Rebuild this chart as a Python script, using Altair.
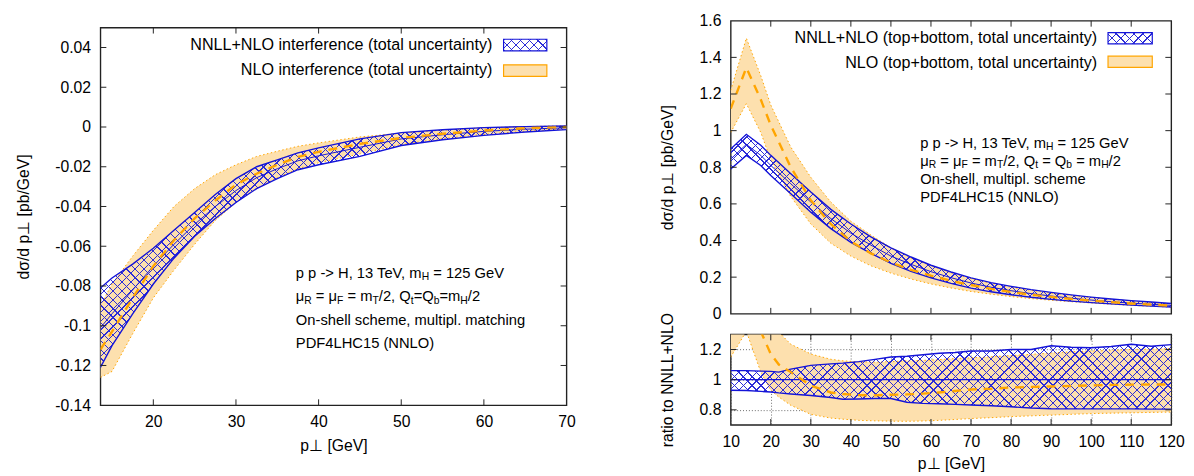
import altair as alt
import pandas as pd

# ---------------- data ----------------
# left panel: top-bottom interference
left_pt = [13.6, 15, 17.5, 20, 22.5, 25, 27.5, 30, 32.5, 35, 37.5, 40, 45, 50, 55, 60, 65, 70]
left_nnll_up = [-0.081, -0.076, -0.069, -0.061, -0.052, -0.043, -0.034, -0.026, -0.020, -0.0165, -0.013, -0.0105, -0.006, -0.0028, -0.0014, -0.0003, 0.0002, 0.0005]
left_nnll_mid = [-0.101, -0.094, -0.082, -0.070, -0.059, -0.049, -0.040, -0.032, -0.0255, -0.021, -0.017, -0.0145, -0.0102, -0.006, -0.0039, -0.0022, -0.0011, -0.0004]
left_nnll_lo = [-0.121, -0.110, -0.094, -0.079, -0.066, -0.055, -0.046, -0.038, -0.031, -0.026, -0.0215, -0.019, -0.0148, -0.0093, -0.0064, -0.0042, -0.0025, -0.0013]
left_nlo_up = [-0.090, -0.079, -0.065, -0.052, -0.040, -0.031, -0.024, -0.019, -0.0148, -0.0122, -0.0097, -0.008, -0.005, -0.0031, -0.0016, -0.0004, 0.0002, 0.0006]
left_nlo_mid = [-0.112, -0.103, -0.086, -0.070, -0.057, -0.046, -0.037, -0.029, -0.0235, -0.019, -0.015, -0.0125, -0.0085, -0.0055, -0.0034, -0.0018, -0.0006, 0.0]
left_nlo_lo = [-0.126, -0.123, -0.104, -0.086, -0.072, -0.059, -0.047, -0.038, -0.031, -0.0255, -0.021, -0.018, -0.0135, -0.0088, -0.0058, -0.0037, -0.0021, -0.0011]

# right panel: top+bottom spectrum
right_pt = [10, 13.9, 17.5, 20, 25, 30, 35, 40, 45, 50, 55, 60, 65, 70, 75, 80, 85, 90, 95, 100, 105, 110, 115, 120]
right_nnll_up = [0.90, 0.98, 0.92, 0.865, 0.765, 0.665, 0.57, 0.49, 0.42, 0.36, 0.31, 0.265, 0.228, 0.196, 0.17, 0.15, 0.132, 0.117, 0.103, 0.091, 0.081, 0.072, 0.064, 0.056]
right_nnll_mid = [0.845, 0.925, 0.865, 0.81, 0.71, 0.61, 0.52, 0.44, 0.375, 0.315, 0.27, 0.23, 0.197, 0.168, 0.145, 0.126, 0.11, 0.097, 0.085, 0.075, 0.066, 0.058, 0.052, 0.046]
right_nnll_lo = [0.79, 0.865, 0.81, 0.755, 0.655, 0.555, 0.465, 0.39, 0.33, 0.275, 0.232, 0.196, 0.166, 0.14, 0.12, 0.104, 0.09, 0.079, 0.069, 0.061, 0.054, 0.047, 0.042, 0.037]
right_nlo_up = [1.22, 1.505, 1.30, 1.14, 0.91, 0.745, 0.61, 0.505, 0.43, 0.36, 0.305, 0.262, 0.224, 0.192, 0.166, 0.145, 0.128, 0.113, 0.1, 0.089, 0.079, 0.07, 0.062, 0.055]
right_nlo_mid = [1.12, 1.344, 1.17, 1.03, 0.80, 0.62, 0.49, 0.395, 0.33, 0.28, 0.24, 0.208, 0.18, 0.157, 0.136, 0.119, 0.104, 0.092, 0.081, 0.072, 0.064, 0.056, 0.05, 0.044]
right_nlo_lo = [0.99, 1.147, 0.99, 0.84, 0.64, 0.49, 0.385, 0.315, 0.262, 0.222, 0.19, 0.163, 0.141, 0.122, 0.107, 0.094, 0.083, 0.074, 0.066, 0.059, 0.052, 0.046, 0.041, 0.036]

# ratio panel (to NNLL+NLO central)
ratio_pt = [10, 13.9, 17.5, 20, 22, 25, 30, 35, 38, 42, 46, 50, 54, 58, 62, 66, 70, 75, 80, 85, 90, 95, 100, 105, 110, 115, 120]
ratio_nnll_up = [1.06, 1.06, 1.057, 1.055, 1.05, 1.07, 1.095, 1.105, 1.11, 1.12, 1.135, 1.15, 1.155, 1.165, 1.175, 1.18, 1.19, 1.19, 1.20, 1.20, 1.225, 1.215, 1.212, 1.22, 1.235, 1.222, 1.232]
ratio_nnll_lo = [0.93, 0.928, 0.922, 0.918, 0.912, 0.905, 0.895, 0.882, 0.87, 0.872, 0.875, 0.875, 0.85, 0.843, 0.84, 0.836, 0.832, 0.827, 0.82, 0.812, 0.807, 0.806, 0.806, 0.806, 0.806, 0.805, 0.805]
ratio_nlo_up = [1.45, 1.6, 1.5, 1.36, 1.315, 1.235, 1.17, 1.135, 1.125, 1.118, 1.116, 1.12, 1.125, 1.128, 1.133, 1.14, 1.145, 1.152, 1.16, 1.168, 1.177, 1.185, 1.19, 1.195, 1.2, 1.203, 1.206]
ratio_nlo_mid = [1.33, 1.45, 1.32, 1.17, 1.10, 1.05, 0.96, 0.915, 0.905, 0.897, 0.896, 0.9, 0.902, 0.907, 0.915, 0.925, 0.935, 0.94, 0.948, 0.952, 0.955, 0.958, 0.962, 0.965, 0.967, 0.968, 0.968]
ratio_nlo_lo = [1.15, 1.32, 1.05, 0.93, 0.885, 0.83, 0.77, 0.745, 0.738, 0.73, 0.727, 0.725, 0.724, 0.726, 0.73, 0.736, 0.742, 0.748, 0.755, 0.76, 0.765, 0.77, 0.775, 0.778, 0.78, 0.783, 0.785]
ratio_ref_pt = [10, 120]
ratio_ref_val = [1.0, 1.0]

# axis ticks / labels
left_xticks = [20, 30, 40, 50, 60, 70]
left_yticks = [-0.14, -0.12, -0.1, -0.08, -0.06, -0.04, -0.02, 0, 0.02, 0.04]
right_xticks = [10, 20, 30, 40, 50, 60, 70, 80, 90, 100, 110, 120]
right_yticks = [0, 0.2, 0.4, 0.6, 0.8, 1, 1.2, 1.4, 1.6]
ratio_yticks = [0.8, 1, 1.2]
left_xdom = [13.6, 70]
left_ydom = [-0.14, 0.05]
right_xdom = [10, 120]
right_ydom = [0, 1.6]
ratio_ydom = [0.7, 1.3]

left_legend = ["NNLL+NLO interference (total uncertainty)", "NLO interference (total uncertainty)"]
right_legend = ["NNLL+NLO (top+bottom, total uncertainty)", "NLO (top+bottom, total uncertainty)"]
left_notes = [
    [("p p -> H, 13 TeV, m", 0), ("H", 1), (" = 125 GeV", 0)],
    [("μ", 0), ("R", 1), (" = μ", 0), ("F", 1), (" = m", 0), ("T", 1), ("/2, Q", 0), ("t", 1),
     ("=Q", 0), ("b", 1), ("=m", 0), ("H", 1), ("/2", 0)],
    [("On-shell scheme, multipl. matching", 0)],
    [("PDF4LHC15 (NNLO)", 0)],
]
right_notes = [
    [("p p -> H, 13 TeV, m", 0), ("H", 1), (" = 125 GeV", 0)],
    [("μ", 0), ("R", 1), (" = μ", 0), ("F", 1), (" = m", 0), ("T", 1), ("/2, Q", 0), ("t", 1),
     (" = Q", 0), ("b", 1), (" = m", 0), ("H", 1), ("/2", 0)],
    [("On-shell, multipl. scheme", 0)],
    [("PDF4LHC15 (NNLO)", 0)],
]

# ---------------- style ----------------
FONT = "Liberation Sans"
BLUE = "#1414d8"
HATCH = "#2c2cd8"
ORANGE = "#ffa500"
ORANGE_FILL = "#fde0ae"
FRAME = "#222222"
CLEAR = "rgba(255,255,255,0)"
LBL = "'' + datum.value"

LW, LH = 474, 384
RW, RH, QH = 448, 298, 92

ARIAL = {' ': 278, '-': 333, '>': 584, ',': 278, '.': 278, '/': 278, '=': 584, '(': 333, ')': 333,
         '+': 584, 'A': 667, 'B': 667, 'C': 722, 'D': 722, 'E': 667, 'F': 611, 'G': 778, 'H': 722,
         'I': 278, 'L': 556, 'M': 833, 'N': 722, 'O': 778, 'P': 667, 'Q': 778, 'R': 722, 'S': 667,
         'T': 611, 'V': 667, 'a': 556, 'b': 556, 'c': 500, 'd': 556, 'e': 556, 'f': 278, 'g': 556,
         'h': 556, 'i': 222, 'l': 222, 'm': 833, 'n': 556, 'o': 556, 'p': 556, 'r': 333, 's': 500,
         't': 278, 'u': 556, 'v': 500, 'x': 500, 'y': 500, 'μ': 576}
KERN = {"Te": -111, "V,": -111}


def tw(s, size):
    w = sum(ARIAL.get(ch, 556) for ch in s)
    w += sum(KERN.get(s[i:i + 2], 0) for i in range(len(s) - 1))
    return w / 1000.0 * size


def hatch(W, H, direction, spacing=9.0, lw=1.3, color=HATCH):
    S = W + H
    M = max(W, H)
    a, b = W / M, H / M
    s = (a + b) / (a * a + b * b)
    period = spacing / S
    w = lw / S
    stops = []
    t = 0.0
    while t < 1.0:
        t1 = round(min(t + w, 1.0), 5)
        t2 = round(min(t + period, 1.0), 5)
        t0 = round(t, 5)
        stops += [{"offset": t0, "color": color}, {"offset": t1, "color": color},
                  {"offset": t1, "color": CLEAR}, {"offset": t2, "color": CLEAR}]
        t += period
    if direction == 0:
        return {"gradient": "linear", "x1": 0, "y1": 0, "x2": round(s * a, 5), "y2": round(s * b, 5),
                "stops": stops}
    return {"gradient": "linear", "x1": 0, "y1": 1, "x2": round(s * a, 5), "y2": round(1 - s * b, 5),
            "stops": stops}


ONE = pd.DataFrame({"k": [0]})


def text_layers(lines, x0, y0, dy, size=15, sub=10.5, sub_dy=4.5):
    out = []
    for i, segs in enumerate(lines):
        x = x0
        y = y0 + i * dy
        for seg, is_sub in segs:
            fs = sub if is_sub else size
            lead = len(seg) - len(seg.lstrip())
            out.append(alt.Chart(ONE).mark_text(align="left", baseline="middle", fontSize=fs,
                                                font=FONT, color="black").encode(
                x=alt.value(x + tw(seg[:lead], fs)), y=alt.value(y + (sub_dy if is_sub else 0)),
                text=alt.value(seg.strip())))
            x += tw(seg, fs)
    return out


def legend_layers(labels, tx, ty, sx, sy, sw=(45, 11.5)):
    out = []
    for lab, y in zip(labels, ty):
        out.append(alt.Chart(ONE).mark_text(align="right", baseline="middle", fontSize=16.4, font=FONT,
                                            color="black").encode(
            x=alt.value(tx), y=alt.value(y), text=alt.value(lab)))
    w, h = sw
    y1 = sy[0]
    for d in (0, 1):
        out.append(alt.Chart(ONE).mark_rect(fill=hatch(w, h, d, spacing=9.0, lw=1.3)).encode(
            x=alt.value(sx), x2=alt.value(sx + w), y=alt.value(y1), y2=alt.value(y1 + h)))
    out.append(alt.Chart(ONE).mark_rect(fill=CLEAR, stroke=BLUE, strokeWidth=1.2).encode(
        x=alt.value(sx), x2=alt.value(sx + w), y=alt.value(y1), y2=alt.value(y1 + h)))
    y2 = sy[1]
    out.append(alt.Chart(ONE).mark_rect(fill=ORANGE_FILL, stroke=ORANGE, strokeWidth=1.2).encode(
        x=alt.value(sx), x2=alt.value(sx + w), y=alt.value(y2), y2=alt.value(y2 + h)))
    return out


def tick_layers(xt, yt, X, Y, W, H, L=6):
    tx = alt.Chart(pd.DataFrame({"x": xt}))
    ty = alt.Chart(pd.DataFrame({"y": yt}))
    st = dict(color=FRAME, strokeWidth=1)
    return [
        tx.mark_rule(**st).encode(x=X("x"), y=alt.value(H - L), y2=alt.value(H)),
        tx.mark_rule(**st).encode(x=X("x"), y=alt.value(0), y2=alt.value(L)),
        ty.mark_rule(**st).encode(y=Y("y"), x=alt.value(0), x2=alt.value(L)),
        ty.mark_rule(**st).encode(y=Y("y"), x=alt.value(W - L), x2=alt.value(W)),
    ]


def band_layers(df, X, Y, W, H, ydom, mid=True):
    base = alt.Chart(df)
    dot = dict(color=ORANGE, strokeWidth=1, strokeDash=[1.5, 2.5], clip=True)
    layers = [
        base.mark_area(fill=ORANGE_FILL, opacity=1, clip=True).encode(x=X("x"), y=Y("olo"), y2=alt.Y2("oup:Q")),
        base.mark_line(**dot).encode(x=X("x"), y=Y("oup")),
        base.mark_line(**dot).encode(x=X("x"), y=Y("olo")),
    ]
    hb = (df["up"].max() - df["lo"].min()) / (ydom[1] - ydom[0]) * H
    for d in (0, 1):
        layers.append(base.mark_area(fill=hatch(W, hb, d), opacity=1, clip=True).encode(
            x=X("x"), y=Y("lo"), y2=alt.Y2("up:Q")))
    ln = dict(color=BLUE, strokeWidth=1.4, clip=True)
    layers.append(base.mark_line(**ln).encode(x=X("x"), y=Y("up")))
    layers.append(base.mark_line(**ln).encode(x=X("x"), y=Y("lo")))
    if mid:
        layers.append(base.mark_line(color=BLUE, strokeWidth=1, clip=True).encode(x=X("x"), y=Y("mid")))
    layers.append(base.mark_line(color=ORANGE, strokeWidth=2.4, strokeDash=[9, 7], clip=True).encode(
        x=X("x"), y=Y("omid")))
    return layers


axis_common = dict(labelFlush=False, labelOverlap=False, labelExpr=LBL)

# ---------------- left panel ----------------
ldf = pd.DataFrame({"x": left_pt, "up": left_nnll_up, "mid": left_nnll_mid, "lo": left_nnll_lo,
                    "oup": left_nlo_up, "omid": left_nlo_mid, "olo": left_nlo_lo})
lsx = alt.Scale(domain=left_xdom, nice=False, zero=False)
lsy = alt.Scale(domain=left_ydom, nice=False, zero=False)
lax = alt.Axis(values=left_xticks, title="p⊥ [GeV]", labelPadding=9, titlePadding=8, **axis_common)
lay = alt.Axis(values=left_yticks, title="dσ/d p⊥ [pb/GeV]", labelPadding=10, titlePadding=24, **axis_common)
LX = lambda f: alt.X(f"{f}:Q", scale=lsx, axis=lax)
LY = lambda f: alt.Y(f"{f}:Q", scale=lsy, axis=lay)

left_layers = band_layers(ldf, LX, LY, LW, LH, left_ydom)
left_layers += tick_layers(left_xticks[:-1], left_yticks[1:], LX, LY, LW, LH)
left_layers += legend_layers(left_legend, 398.7, [17.6, 43.6], 410, [11.8, 37.8], sw=(44, 11.8))
left_layers += text_layers(left_notes, 198.7, 249.3, 23.9)
left_panel = alt.layer(*left_layers).properties(width=LW, height=LH)

# invisible 1px cell that lowers the left frame relative to the right one
spacer = alt.Chart(ONE).mark_point(opacity=0, size=0).encode(x=alt.value(0), y=alt.value(0)).properties(
    width=1, height=1, view=alt.ViewBackground(stroke="transparent"))
left_col = alt.vconcat(spacer, left_panel, spacing=3)

# ---------------- right main panel ----------------
rdf = pd.DataFrame({"x": right_pt, "up": right_nnll_up, "mid": right_nnll_mid, "lo": right_nnll_lo,
                    "oup": right_nlo_up, "omid": right_nlo_mid, "olo": right_nlo_lo})
rsx = alt.Scale(domain=right_xdom, nice=False, zero=False)
rsy = alt.Scale(domain=right_ydom, nice=False, zero=False)
ray = alt.Axis(values=right_yticks, title="dσ/d p⊥ [pb/GeV]", labelPadding=10, titlePadding=24, **axis_common)
RX = lambda f: alt.X(f"{f}:Q", scale=rsx, axis=None)
RY = lambda f: alt.Y(f"{f}:Q", scale=rsy, axis=ray)

right_layers = band_layers(rdf, RX, RY, RW, RH, right_ydom)
right_layers += tick_layers(right_xticks[1:-1], right_yticks[1:-1], RX, RY, RW, RH)
right_layers += legend_layers(right_legend, 372.7, [17.6, 42.6], 383.7, [12, 36], sw=(45, 11.5))
right_layers += text_layers(right_notes, 192.7, 124.3, 18.35)
right_panel = alt.layer(*right_layers).properties(width=RW, height=RH)

# ---------------- ratio panel ----------------
qdf = pd.DataFrame({"x": ratio_pt, "up": ratio_nnll_up, "lo": ratio_nnll_lo,
                    "oup": ratio_nlo_up, "omid": ratio_nlo_mid, "olo": ratio_nlo_lo})
qsy = alt.Scale(domain=ratio_ydom, nice=False, zero=False)
grid = dict(grid=True, gridDash=[1, 2], gridColor="#444444", gridWidth=0.8)
qax = alt.Axis(values=right_xticks, title="p⊥ [GeV]", labelPadding=9, titlePadding=6, **grid, **axis_common)
qay = alt.Axis(values=ratio_yticks, title="ratio to NNLL+NLO", labelPadding=10, titlePadding=24, **grid, **axis_common)
QX = lambda f: alt.X(f"{f}:Q", scale=rsx, axis=qax)
QY = lambda f: alt.Y(f"{f}:Q", scale=qsy, axis=qay)

ratio_layers = band_layers(qdf, QX, QY, RW, QH, ratio_ydom, mid=False)
refdf = pd.DataFrame({"x": ratio_ref_pt, "y": ratio_ref_val})
ratio_layers.insert(-1, alt.Chart(refdf).mark_line(color=BLUE, strokeWidth=1.3).encode(x=QX("x"), y=QY("y")))
ratio_layers += tick_layers(right_xticks[1:-1], ratio_yticks, QX, QY, RW, QH)
ratio_panel = alt.layer(*ratio_layers).properties(width=RW, height=QH)

right_col = alt.vconcat(right_panel, ratio_panel, spacing=21, bounds="flush")

chart = alt.hconcat(left_col, right_col, spacing=84).properties(
    padding={"left": 6, "top": 0, "right": 0, "bottom": 0}
).configure(font=FONT).configure_view(
    stroke=FRAME, strokeWidth=1.4
).configure_axis(
    labelFont=FONT, titleFont=FONT, labelFontSize=16, titleFontSize=16, titleFontWeight="normal",
    labelColor="black", titleColor="black", ticks=False, domain=False, grid=False
)

chart.save("out.html", embed_options={"renderer": "svg", "actions": False})
